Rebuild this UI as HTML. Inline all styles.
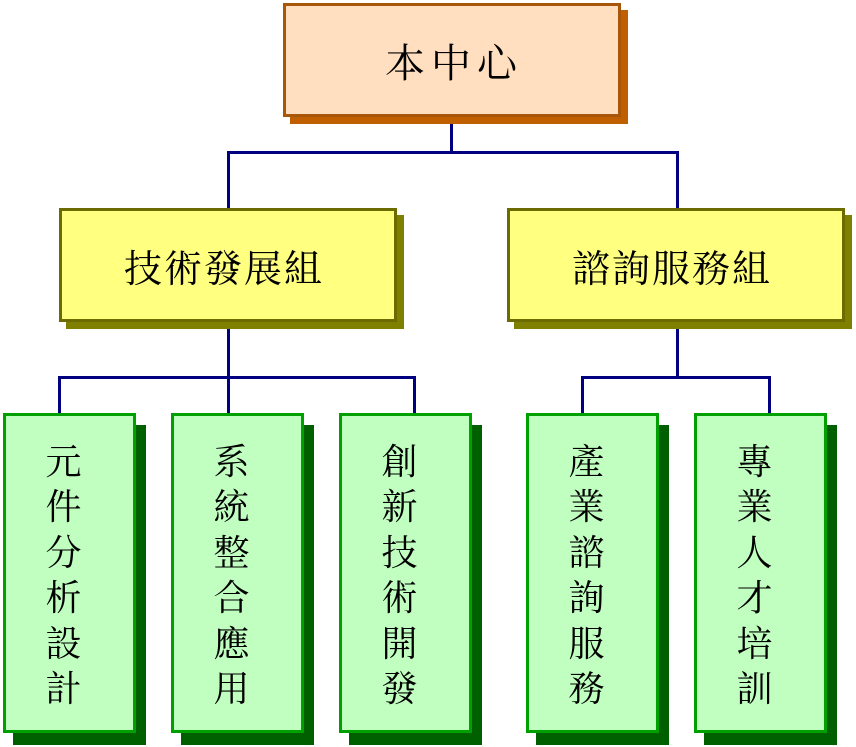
<!DOCTYPE html>
<html><head><meta charset="utf-8"><style>
body{margin:0;width:856px;height:747px;background:#fff;position:relative;overflow:hidden;font-family:"Noto Serif CJK SC","Liberation Serif",serif}
.b{position:absolute;box-sizing:border-box;display:flex;align-items:center;justify-content:center;color:#000}
.ln{position:absolute;background:#000080}
.v{flex-direction:column;font-size:36px;line-height:45.5px;padding-right:12px}
</style></head><body>
<div class="ln" style="left:450px;top:114px;width:3px;height:40px"></div>
<div class="ln" style="left:227px;top:151px;width:452px;height:3px"></div>
<div class="ln" style="left:227px;top:151px;width:3px;height:58px"></div>
<div class="ln" style="left:676px;top:151px;width:3px;height:58px"></div>
<div class="ln" style="left:227px;top:320px;width:3px;height:95px"></div>
<div class="ln" style="left:58px;top:376px;width:358px;height:3px"></div>
<div class="ln" style="left:58px;top:376px;width:3px;height:39px"></div>
<div class="ln" style="left:413px;top:376px;width:3px;height:39px"></div>
<div class="ln" style="left:676px;top:320px;width:3px;height:58px"></div>
<div class="ln" style="left:581px;top:376px;width:190px;height:3px"></div>
<div class="ln" style="left:581px;top:376px;width:3px;height:39px"></div>
<div class="ln" style="left:768px;top:376px;width:3px;height:39px"></div>
<div class="b" style="left:290px;top:10px;width:338px;height:114px;background:#C05F00"></div>
<div class="b" style="left:283px;top:3px;width:338px;height:114px;background:#FFDFC0;border:3px solid #A8560A;font-size:40px;letter-spacing:6px;padding-left:4px">本中心</div>
<div class="b" style="left:66px;top:215px;width:338px;height:114px;background:#808000"></div>
<div class="b" style="left:59px;top:208px;width:338px;height:114px;background:#FFFF80;border:3px solid #6B6B00;font-size:38px;letter-spacing:2px;padding-right:8px">技術發展組</div>
<div class="b" style="left:514px;top:215px;width:338px;height:114px;background:#808000"></div>
<div class="b" style="left:507px;top:208px;width:338px;height:114px;background:#FFFF80;border:3px solid #6B6B00;font-size:38px;letter-spacing:2px;padding-right:8px">諮詢服務組</div>
<div class="b" style="left:13px;top:425px;width:133px;height:320px;background:#006000"></div>
<div class="b v" style="left:3px;top:413px;width:133px;height:320px;background:#C0FFC0;border:3px solid #00A000"><span>元</span><span>件</span><span>分</span><span>析</span><span>設</span><span>計</span></div>
<div class="b" style="left:181px;top:425px;width:133px;height:320px;background:#006000"></div>
<div class="b v" style="left:171px;top:413px;width:133px;height:320px;background:#C0FFC0;border:3px solid #00A000"><span>系</span><span>統</span><span>整</span><span>合</span><span>應</span><span>用</span></div>
<div class="b" style="left:349px;top:425px;width:133px;height:320px;background:#006000"></div>
<div class="b v" style="left:339px;top:413px;width:133px;height:320px;background:#C0FFC0;border:3px solid #00A000"><span>創</span><span>新</span><span>技</span><span>術</span><span>開</span><span>發</span></div>
<div class="b" style="left:536px;top:425px;width:133px;height:320px;background:#006000"></div>
<div class="b v" style="left:526px;top:413px;width:133px;height:320px;background:#C0FFC0;border:3px solid #00A000"><span>產</span><span>業</span><span>諮</span><span>詢</span><span>服</span><span>務</span></div>
<div class="b" style="left:704px;top:425px;width:133px;height:320px;background:#006000"></div>
<div class="b v" style="left:694px;top:413px;width:133px;height:320px;background:#C0FFC0;border:3px solid #00A000"><span>專</span><span>業</span><span>人</span><span>才</span><span>培</span><span>訓</span></div>
</body></html>
